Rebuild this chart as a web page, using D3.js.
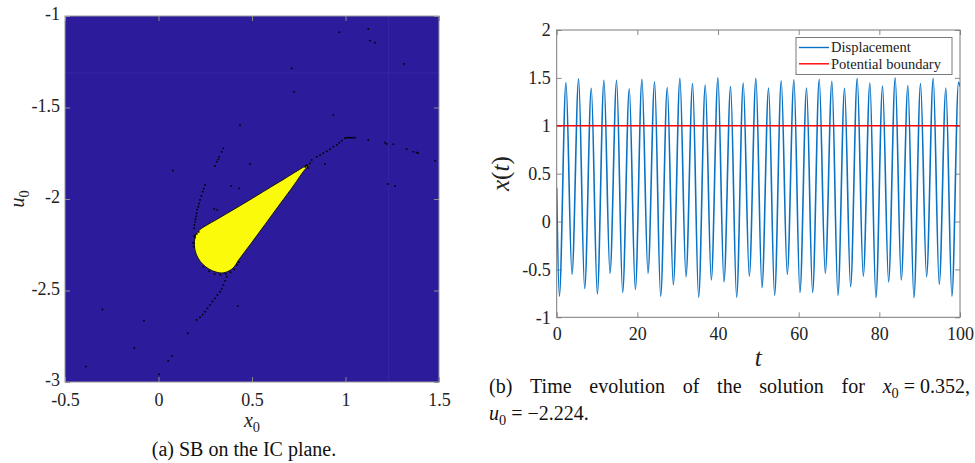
<!DOCTYPE html>
<html>
<head>
<meta charset="utf-8">
<script src="https://cdn.jsdelivr.net/npm/d3@7"></script>
<style>
  body { margin: 0; background: #fff; }
  svg { display: block; }
</style>
</head>
<body>
<svg id="fig" width="975" height="463"></svg>
<script>
// ---------------- data: (a) safe basin on the initial-condition plane ----------------
const basinXDomain = [-0.5, 1.5];
const basinUDomain = [-3, -1];
const basinXTicks = [-0.5, 0, 0.5, 1, 1.5];
const basinXTickLabels = ["-0.5", "0", "0.5", "1", "1.5"];
const basinUTicks = [-3, -2.5, -2, -1.5, -1];
const basinUTickLabels = ["-3", "-2.5", "-2", "-1.5", "-1"];

// outline of the bounded (yellow) region, [x0, u0]
const safeBasin = [
  [0.802, -1.814], [0.650, -1.904], [0.473, -2.014], [0.329, -2.101], [0.222, -2.167],
  [0.201, -2.191], [0.1925, -2.230], [0.195, -2.279], [0.211, -2.322], [0.238, -2.358],
  [0.270, -2.383], [0.307, -2.399], [0.345, -2.404], [0.377, -2.393], [0.404, -2.372],
  [0.425, -2.339], [0.495, -2.243], [0.570, -2.139], [0.650, -2.027], [0.725, -1.923],
  [0.773, -1.852]
];

// isolated bounded initial conditions, [x0, u0]
const chainDots = [
  [0.81, -1.805], [0.819, -1.787], [0.846, -1.769], [0.864, -1.76], [0.881, -1.75],
  [0.9, -1.74], [0.917, -1.728], [0.935, -1.714], [0.953, -1.705], [0.967, -1.693],
  [0.98, -1.681], [0.997, -1.668], [1.006, -1.665], [1.015, -1.665], [1.024, -1.665],
  [1.033, -1.665], [1.042, -1.665], [1.051, -1.665]
];
const arcDots = [
  [0.347, -1.723], [0.338, -1.742], [0.325, -1.769], [0.32, -1.783], [0.311, -1.796],
  [0.302, -1.82], [0.249, -1.923], [0.242, -1.943], [0.236, -1.96], [0.229, -1.983],
  [0.222, -2.005], [0.217, -2.025], [0.213, -2.042], [0.207, -2.058], [0.204, -2.078],
  [0.201, -2.095], [0.198, -2.11], [0.195, -2.124], [0.192, -2.142], [0.19, -2.16]
];
const tailDots = [
  [0.365, -2.425], [0.356, -2.447], [0.347, -2.47], [0.338, -2.49], [0.329, -2.507],
  [0.315, -2.525], [0.302, -2.543], [0.288, -2.56], [0.275, -2.579], [0.262, -2.597],
  [0.249, -2.616], [0.236, -2.632], [0.222, -2.646], [0.204, -2.661]
];
const scatterDots = [
  [1.122, -1.678], [1.211, -1.692], [1.22, -1.699], [1.256, -1.701], [1.327, -1.728],
  [1.363, -1.742], [1.38, -1.746], [1.389, -1.75], [1.479, -1.791], [0.89, -1.809],
  [1.229, -1.918], [1.265, -1.929],
  [1.122, -1.071], [1.131, -1.135], [1.158, -1.146], [0.967, -1.089], [1.314, -1.262],
  [0.712, -1.286], [0.725, -1.414], [0.935, -1.541], [0.436, -1.596], [0.076, -1.845],
  [0.489, -1.809], [0.388, -1.929], [0.432, -1.942], [0.298, -2.055], [0.314, -2.06],
  [0.424, -2.585], [-0.30, -2.603], [-0.078, -2.665], [0.156, -2.734], [-0.129, -2.813],
  [0.071, -2.858], [0.052, -2.885], [-0.388, -2.916], [0.003, -2.958]
];
const edgeDots = [
  [0.24, -2.37], [0.27, -2.395], [0.30, -2.41], [0.33, -2.415], [0.36, -2.41],
  [0.385, -2.40], [0.405, -2.385], [0.42, -2.36], [0.43, -2.345],
  [0.19, -2.2], [0.195, -2.21], [0.185, -2.24], [0.188, -2.26], [0.205, -2.19], [0.215, -2.18],
  [0.795, -1.82], [0.80, -1.83], [0.785, -1.825], [0.79, -1.815]
];
// faint tile seams across the map
const seamX0 = 1.231;
const seamU0 = -1.311;

// ---------------- data: (b) time history ----------------
const tDomain = [0, 100];
const xDomain = [-1, 2];
const tTicks = [0, 20, 40, 60, 80, 100];
const tTickLabels = ["0", "20", "40", "60", "80", "100"];
const xTicks = [-1, -0.5, 0, 0.5, 1, 1.5, 2];
const xTickLabels = ["-1", "-0.5", "0", "0.5", "1", "1.5", "2"];

const startPoint = [0, 0.352];
const endPoint = [100, 1.41];
const peakTimes = [2.30, 5.44, 8.58, 11.72, 14.86, 18.00, 21.14, 24.28, 27.42, 30.56, 33.70,
  36.84, 39.98, 43.12, 46.26, 49.40, 52.54, 55.68, 58.82, 61.96, 65.10, 68.24, 71.38, 74.52,
  77.66, 80.80, 83.94, 87.08, 90.22, 93.36, 96.50, 99.64];
const peakValues = [1.45, 1.49, 1.39, 1.475, 1.475, 1.385, 1.485, 1.46, 1.40, 1.495, 1.44,
  1.425, 1.50, 1.41, 1.445, 1.495, 1.395, 1.47, 1.48, 1.395, 1.485, 1.465, 1.39, 1.495,
  1.445, 1.415, 1.50, 1.42, 1.44, 1.495, 1.395, 1.455];
const troughTimes = [0.65, 3.79, 6.93, 10.07, 13.21, 16.35, 19.49, 22.63, 25.77, 28.91, 32.05,
  35.19, 38.33, 41.47, 44.61, 47.75, 50.89, 54.03, 57.17, 60.31, 63.45, 66.59, 69.73, 72.87,
  76.01, 79.15, 82.29, 85.43, 88.57, 91.71, 94.85, 97.99];
const troughValues = [-0.78, -0.55, -0.70, -0.755, -0.54, -0.74, -0.71, -0.54, -0.78, -0.66,
  -0.575, -0.79, -0.61, -0.63, -0.79, -0.57, -0.69, -0.77, -0.55, -0.74, -0.74, -0.54, -0.77,
  -0.68, -0.57, -0.795, -0.63, -0.61, -0.795, -0.575, -0.655, -0.78];
const boundaryLevel = 1;
const legendLabels = ["Displacement", "Potential boundary"];

// ---------------- styles ----------------
const SERIF = "'Liberation Serif', 'Times New Roman', serif";
const BASIN_BG = "#2c1c9c";
const BASIN_FG = "#fafa0a";
const LINE_BLUE = "#0a72c4";
const LINE_RED = "#ff0000";

const svg = d3.select("#fig");
svg.append("rect").attr("width", 975).attr("height", 463).attr("fill", "#fff");

// helper: text with italic symbol and upright subscript
function symbolWithSub(sel, sym, sub, size) {
  sel.append("tspan").attr("font-style", "italic").text(sym);
  sel.append("tspan").attr("font-size", size * 0.72).attr("dy", size * 0.25).text(sub);
}

// ======================= panel (a) =======================
const ax = d3.scaleLinear().domain(basinXDomain).range([65, 439]);
const au = d3.scaleLinear().domain(basinUDomain).range([382, 16]);
const gA = svg.append("g");

gA.append("rect")
  .attr("x", ax(basinXDomain[0])).attr("y", au(basinUDomain[1]))
  .attr("width", ax(basinXDomain[1]) - ax(basinXDomain[0]))
  .attr("height", au(basinUDomain[0]) - au(basinUDomain[1]))
  .attr("fill", BASIN_BG);

gA.append("line")
  .attr("x1", ax(basinXDomain[0])).attr("x2", ax(basinXDomain[1]))
  .attr("y1", au(seamU0)).attr("y2", au(seamU0))
  .attr("stroke", "#3b2aa8").attr("stroke-width", 0.8);
gA.append("line")
  .attr("x1", ax(seamX0)).attr("x2", ax(seamX0))
  .attr("y1", au(basinUDomain[0])).attr("y2", au(basinUDomain[1]))
  .attr("stroke", "#3b2aa8").attr("stroke-width", 0.8);

const basinPath = d3.line()
  .x(d => ax(d[0])).y(d => au(d[1]))
  .curve(d3.curveCatmullRomClosed.alpha(0.5));
gA.append("path")
  .attr("d", basinPath(safeBasin))
  .attr("fill", BASIN_FG)
  .attr("stroke", "#111").attr("stroke-width", 1);

const allDots = [].concat(chainDots, arcDots, tailDots, scatterDots, edgeDots);
gA.append("g").selectAll("rect").data(allDots).join("rect")
  .attr("x", d => ax(d[0]) - 0.8).attr("y", d => au(d[1]) - 0.8)
  .attr("width", 1.6).attr("height", 1.6)
  .attr("fill", "#000");

// axes (ticks pointing inward on all four sides)
function styleAxis(g) {
  g.select(".domain").remove();
  g.selectAll(".tick line").attr("stroke", "#8a8a8a");
  g.selectAll(".tick text").attr("font-family", SERIF).attr("font-size", 18).attr("fill", "#222");
}
const fmtA_x = d => basinXTickLabels[basinXTicks.indexOf(d)];
const fmtA_u = d => basinUTickLabels[basinUTicks.indexOf(d)];

gA.append("g").attr("transform", `translate(0,${au(basinUDomain[0])})`)
  .call(d3.axisBottom(ax).tickValues(basinXTicks).tickFormat(fmtA_x).tickSize(-5).tickPadding(11))
  .call(styleAxis);
gA.append("g").attr("transform", `translate(0,${au(basinUDomain[1])})`)
  .call(d3.axisTop(ax).tickValues(basinXTicks).tickFormat("").tickSize(-5))
  .call(styleAxis);
gA.append("g").attr("transform", `translate(${ax(basinXDomain[0])},0)`)
  .call(d3.axisLeft(au).tickValues(basinUTicks).tickFormat(fmtA_u).tickSize(-5).tickPadding(5))
  .call(styleAxis)
  .call(g => g.selectAll(".tick text").attr("dy", "0.2em"));
gA.append("g").attr("transform", `translate(${ax(basinXDomain[1])},0)`)
  .call(d3.axisRight(au).tickValues(basinUTicks).tickFormat("").tickSize(-5))
  .call(styleAxis);

gA.append("rect")
  .attr("x", ax(basinXDomain[0])).attr("y", au(basinUDomain[1]))
  .attr("width", ax(basinXDomain[1]) - ax(basinXDomain[0]))
  .attr("height", au(basinUDomain[0]) - au(basinUDomain[1]))
  .attr("fill", "none").attr("stroke", "#9a9a9a").attr("stroke-width", 1);

// axis labels
const aXLabel = gA.append("text")
  .attr("x", (ax(basinXDomain[0]) + ax(basinXDomain[1])) / 2).attr("y", 427)
  .attr("text-anchor", "middle").attr("font-family", SERIF).attr("font-size", 20).attr("fill", "#222");
symbolWithSub(aXLabel, "x", "0", 20);
const aULabel = gA.append("text")
  .attr("transform", `translate(24,${(au(basinUDomain[0]) + au(basinUDomain[1])) / 2}) rotate(-90)`)
  .attr("text-anchor", "middle").attr("font-family", SERIF).attr("font-size", 20).attr("fill", "#222");
symbolWithSub(aULabel, "u", "0", 20);

// caption (a)
gA.append("text")
  .attr("x", 244).attr("y", 456)
  .attr("text-anchor", "middle").attr("font-family", SERIF).attr("font-size", 20).attr("fill", "#111")
  .text("(a) SB on the IC plane.");

// ======================= panel (b) =======================
const bt = d3.scaleLinear().domain(tDomain).range([556.7, 960]);
const bx = d3.scaleLinear().domain(xDomain).range([317.3, 30]);
const gB = svg.append("g");

gB.append("rect")
  .attr("x", bt(tDomain[0])).attr("y", bx(xDomain[1]))
  .attr("width", bt(tDomain[1]) - bt(tDomain[0]))
  .attr("height", bx(xDomain[0]) - bx(xDomain[1]))
  .attr("fill", "#fff");

const fmtB_t = d => tTickLabels[tTicks.indexOf(d)];
const fmtB_x = d => xTickLabels[xTicks.indexOf(d)];
gB.append("g").attr("transform", `translate(0,${bx(xDomain[0])})`)
  .call(d3.axisBottom(bt).tickValues(tTicks).tickFormat(fmtB_t).tickSize(-5).tickPadding(10))
  .call(styleAxis);
gB.append("g").attr("transform", `translate(0,${bx(xDomain[1])})`)
  .call(d3.axisTop(bt).tickValues(tTicks).tickFormat("").tickSize(-5))
  .call(styleAxis);
gB.append("g").attr("transform", `translate(${bt(tDomain[0])},0)`)
  .call(d3.axisLeft(bx).tickValues(xTicks).tickFormat(fmtB_x).tickSize(-5).tickPadding(6))
  .call(styleAxis);
gB.append("g").attr("transform", `translate(${bt(tDomain[1])},0)`)
  .call(d3.axisRight(bx).tickValues(xTicks).tickFormat("").tickSize(-5))
  .call(styleAxis);

// displacement history through its extrema
const history = [startPoint]
  .concat(peakTimes.map((t, i) => [t, peakValues[i]]))
  .concat(troughTimes.map((t, i) => [t, troughValues[i]]))
  .concat([endPoint])
  .sort((a, b) => a[0] - b[0]);

svg.append("clipPath").attr("id", "clipB").append("rect")
  .attr("x", bt(tDomain[0])).attr("y", bx(xDomain[1]))
  .attr("width", bt(tDomain[1]) - bt(tDomain[0]))
  .attr("height", bx(xDomain[0]) - bx(xDomain[1]));

const histLine = d3.line().x(d => bt(d[0])).y(d => bx(d[1])).curve(d3.curveMonotoneX);
gB.append("path")
  .attr("clip-path", "url(#clipB)")
  .attr("d", histLine(history))
  .attr("fill", "none").attr("stroke", LINE_BLUE).attr("stroke-width", 1.6)
  .attr("stroke-linejoin", "round");

gB.append("line")
  .attr("x1", bt(tDomain[0])).attr("x2", bt(tDomain[1]))
  .attr("y1", bx(boundaryLevel)).attr("y2", bx(boundaryLevel))
  .attr("stroke", LINE_RED).attr("stroke-width", 1.5);

gB.append("rect")
  .attr("x", bt(tDomain[0])).attr("y", bx(xDomain[1]))
  .attr("width", bt(tDomain[1]) - bt(tDomain[0]))
  .attr("height", bx(xDomain[0]) - bx(xDomain[1]))
  .attr("fill", "none").attr("stroke", "#7a7a7a").attr("stroke-width", 1);

// legend
const leg = gB.append("g").attr("transform", "translate(796,37.5)");
leg.append("rect").attr("width", 156).attr("height", 37)
  .attr("fill", "#fff").attr("stroke", "#7a7a7a").attr("stroke-width", 1);
[LINE_BLUE, LINE_RED].forEach((c, i) => {
  const y = 10 + i * 16.3;
  leg.append("line").attr("x1", 3).attr("x2", 33).attr("y1", y).attr("y2", y)
    .attr("stroke", c).attr("stroke-width", 1.4);
  leg.append("text").attr("x", 35).attr("y", y + 4.8)
    .attr("font-family", SERIF).attr("font-size", 14.5).attr("fill", "#222")
    .text(legendLabels[i]);
});

// axis labels
const bYLabel = gB.append("text")
  .attr("transform", `translate(509,${(bx(xDomain[0]) + bx(xDomain[1])) / 2}) rotate(-90)`)
  .attr("text-anchor", "middle").attr("font-family", SERIF).attr("font-size", 25).attr("fill", "#222");
bYLabel.append("tspan").attr("font-style", "italic").text("x");
bYLabel.append("tspan").text("(");
bYLabel.append("tspan").attr("font-style", "italic").text("t");
bYLabel.append("tspan").text(")");

gB.append("text")
  .attr("x", (bt(tDomain[0]) + bt(tDomain[1])) / 2).attr("y", 366)
  .attr("text-anchor", "middle").attr("font-family", SERIF).attr("font-size", 25)
  .attr("font-style", "italic").attr("fill", "#222").text("t");

// caption (b), first line justified between fixed margins
const capLeft = 489, capRight = 970, capSize = 20;
const words = ["(b)", "Time", "evolution", "of", "the", "solution", "for"];
const capG = gB.append("g").attr("font-family", SERIF).attr("font-size", capSize).attr("fill", "#111");
const nodes = words.map(w => capG.append("text").attr("y", 393).text(w));
const last = capG.append("text").attr("y", 393);
symbolWithSub(last, "x", "0", capSize);
last.append("tspan").attr("dy", -capSize * 0.25).text(" = 0.352,");
const items = nodes.concat([last]);
const widths = items.map(n => n.node().getComputedTextLength());
const gap = (capRight - capLeft - d3.sum(widths)) / (items.length - 1);
let cx = capLeft;
items.forEach((n, i) => { n.attr("x", cx); cx += widths[i] + gap; });

const line2 = capG.append("text").attr("x", capLeft).attr("y", 420);
symbolWithSub(line2, "u", "0", capSize);
line2.append("tspan").attr("dy", -capSize * 0.25).text(" = \u22122.224.");
</script>
</body>
</html>
